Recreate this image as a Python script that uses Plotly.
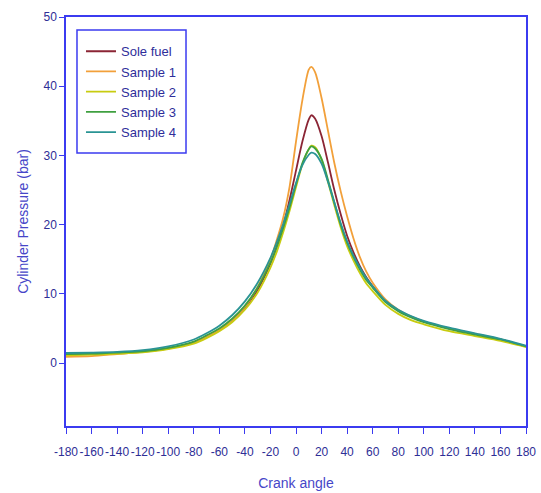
import plotly.graph_objects as go

crank_angle = [-180, -160, -140, -120, -100, -80, -70, -60, -50, -40, -30, -20, -15, -10, -5,
               0, 5, 10, 12, 15, 20, 25, 30, 35, 40, 45, 50, 55, 60, 70, 80, 90, 100, 120, 140, 160, 180]

sole_fuel = [1.2, 1.3, 1.45, 1.65, 2.1, 3.0, 3.8, 4.8, 6.2, 8.0, 10.6, 14.4, 16.9, 19.9, 23.6,
             27.8, 32.0, 35.2, 35.8, 35.3, 32.8, 29.0, 25.0, 21.5, 18.4, 16.0, 14.0, 12.4, 11.1,
             9.0, 7.6, 6.7, 6.0, 5.0, 4.2, 3.4, 2.4]
sample_1 = [0.9, 1.0, 1.3, 1.6, 2.1, 3.0, 3.8, 4.8, 6.2, 8.1, 11.0, 15.0, 17.8, 21.0, 25.5,
            32.0, 38.0, 42.4, 42.8, 42.0, 38.3, 33.6, 28.9, 24.8, 21.2, 18.0, 15.3, 13.2, 11.6,
            9.2, 7.7, 6.7, 6.0, 5.0, 4.2, 3.4, 2.4]
sample_2 = [1.1, 1.2, 1.35, 1.55, 2.0, 2.8, 3.6, 4.6, 5.9, 7.7, 10.2, 13.8, 16.1, 18.9, 22.0,
            25.4, 28.7, 30.9, 31.4, 31.2, 29.4, 26.2, 22.8, 19.6, 16.9, 14.8, 13.0, 11.5, 10.4,
            8.4, 7.1, 6.2, 5.6, 4.6, 3.9, 3.2, 2.3]
sample_3 = [1.3, 1.35, 1.5, 1.7, 2.2, 3.1, 4.0, 5.0, 6.4, 8.3, 10.9, 14.5, 16.8, 19.5, 22.5,
            25.8, 28.9, 30.9, 31.3, 31.0, 29.5, 26.5, 23.2, 20.0, 17.4, 15.3, 13.5, 12.0, 10.9,
            8.8, 7.5, 6.6, 5.9, 4.9, 4.1, 3.4, 2.4]
sample_4 = [1.45, 1.5, 1.6, 1.85, 2.4, 3.4, 4.3, 5.4, 6.9, 8.9, 11.6, 15.2, 17.5, 20.1, 23.0,
            26.0, 28.6, 30.1, 30.4, 30.2, 28.8, 26.2, 23.2, 20.2, 17.6, 15.5, 13.8, 12.3, 11.1,
            9.0, 7.7, 6.8, 6.1, 5.1, 4.3, 3.5, 2.5]

series_names = ["Sole fuel", "Sample 1", "Sample 2", "Sample 3", "Sample 4"]
series_values = [sole_fuel, sample_1, sample_2, sample_3, sample_4]
colors = ["#8B2535", "#F2A03A", "#C8CC10", "#3FA040", "#2A9494"]

x_ticks = list(range(-180, 181, 20))
y_ticks = [0, 10, 20, 30, 40, 50]

fig = go.Figure()
for name, vals, col in zip(series_names, series_values, colors):
    fig.add_trace(go.Scatter(x=crank_angle, y=vals, mode="lines", name=name,
                             legendgroup=name,
                             line=dict(color=col, width=1.8, shape="spline", smoothing=0.8)))

axis_col = "#3b3bf0"
tick_font = dict(family="Liberation Sans, Arial", size=12, color="#2e2e96")
title_font = dict(family="Liberation Sans, Arial", size=14, color="#4646c8")

# legend frame drawn as a rectangle around the legend
fig.add_shape(type="rect", xref="paper", yref="paper",
              x0=0.0239, x1=0.2609, y0=0.6675, y1=0.9682,
              line=dict(color=axis_col, width=1.5), fillcolor="rgba(0,0,0,0)", layer="above")

fig.update_layout(
    width=541, height=493,
    margin=dict(l=66, r=15, t=17, b=67),
    paper_bgcolor="white", plot_bgcolor="white",
    showlegend=True,
    legend=dict(x=0.0326, y=0.9528, xanchor="left", yanchor="top",
                borderwidth=0, bgcolor="rgba(0,0,0,0)",
                font=dict(family="Liberation Sans, Arial", size=13, color="#2e2e9a"),
                tracegroupgap=0.3, traceorder="grouped", itemwidth=30),
    xaxis=dict(range=[-180, 180], tickvals=x_ticks, ticktext=[str(v) for v in x_ticks],
               tickangle=0, automargin=False, ticklabelstandoff=8,
               showgrid=False, zeroline=False, showline=True, linecolor=axis_col, linewidth=1.5,
               mirror=True, ticks="outside", ticklen=6, tickcolor=axis_col, tickwidth=1.2,
               tickfont=tick_font,
               title=dict(text="Crank angle", font=title_font, standoff=20)),
    yaxis=dict(range=[-9.1, 50], tickvals=y_ticks, automargin=False,
               showgrid=False, zeroline=False, showline=True, linecolor=axis_col, linewidth=1.5,
               mirror=True, ticks="outside", ticklen=5, tickcolor=axis_col, tickwidth=1.2,
               tickfont=tick_font,
               title=dict(text="Cylinder Pressure (bar)", font=title_font, standoff=12)),
)

fig.write_html("out.html")
